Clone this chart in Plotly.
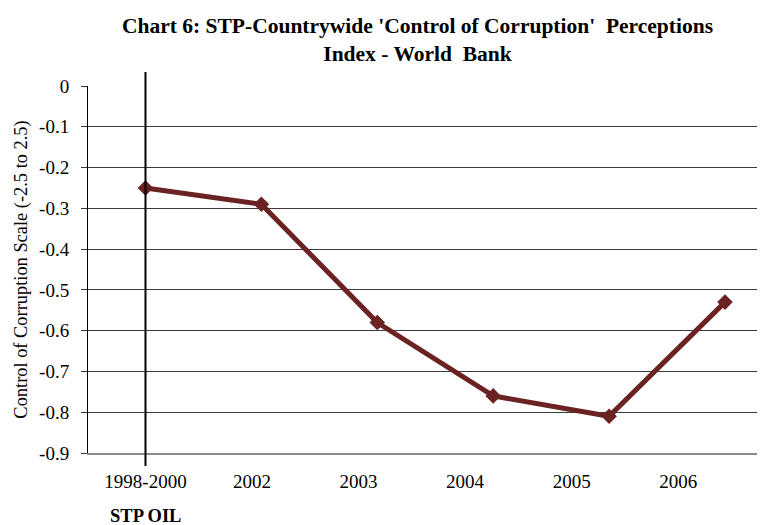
import plotly.graph_objects as go

# World Bank 'Control of Corruption' scores for São Tomé and Príncipe
periods = ["1998-2000", "2002", "2003", "2004", "2005", "2006"]
scores = [-0.25, -0.29, -0.58, -0.76, -0.81, -0.53]
y_ticks = [0, -0.1, -0.2, -0.3, -0.4, -0.5, -0.6, -0.7, -0.8, -0.9]
y_tick_text = ["0", "-0.1", "-0.2", "-0.3", "-0.4", "-0.5", "-0.6", "-0.7", "-0.8", "-0.9"]
oil_marker_period = "1998-2000"
oil_label = "STP OIL"

SERIF = "Liberation Serif, Times New Roman, serif"
LINE_COLOR = "#6B2222"

fig = go.Figure()

# category labels along the bottom axis
fig.add_trace(go.Scatter(
    x=periods, y=scores, mode="none", xaxis="x", yaxis="y",
    hoverinfo="skip", showlegend=False,
))

# the index series itself
fig.add_trace(go.Scatter(
    x=periods, y=scores, mode="lines+markers", xaxis="x2", yaxis="y",
    line=dict(color=LINE_COLOR, width=5),
    marker=dict(symbol="diamond", size=12, color=LINE_COLOR),
    showlegend=False,
))

plot_top, plot_bottom = 86, 453
plot_h = plot_bottom - plot_top

# vertical marker for the start of STP oil activity
fig.add_shape(
    type="line", xref="x2", yref="paper",
    x0=oil_marker_period, x1=oil_marker_period,
    y0=-(466 - plot_bottom) / plot_h, y1=1 + (plot_top - 72) / plot_h,
    line=dict(color="black", width=2),
    layer="above",
)

fig.add_annotation(
    text="<b>" + oil_label + "</b>", xref="x2", yref="paper",
    x=oil_marker_period, y=-(516 - plot_bottom) / plot_h,
    showarrow=False, font=dict(family=SERIF, size=18.5, color="black"),
    xanchor="center", yanchor="middle",
)

fig.update_layout(
    width=776, height=525,
    margin=dict(l=88, r=19, t=plot_top, b=525 - plot_bottom),
    paper_bgcolor="white", plot_bgcolor="white",
    font=dict(family=SERIF, size=19, color="black"),
    title=dict(
        text="<b>Chart 6: STP-Countrywide 'Control of Corruption'  Perceptions<br>Index - World  Bank</b>",
        x=0.538, xanchor="center", y=0.937, yanchor="middle",
        font=dict(family=SERIF, size=21.5, color="black"),
    ),
    xaxis=dict(
        type="category", range=[-0.54, 5.74],
        showgrid=False, zeroline=False,
        showline=True, linecolor="#8c8c8c", linewidth=2,
        ticks="", ticklabelstandoff=10,
        tickfont=dict(family=SERIF, size=19, color="black"),
    ),
    xaxis2=dict(
        type="category", range=[-0.496, 5.276], overlaying="x",
        showgrid=False, zeroline=False, showline=False,
        showticklabels=False, ticks="",
    ),
    yaxis=dict(
        range=[-0.9, 0], tickvals=y_ticks, ticktext=y_tick_text,
        showgrid=True, gridcolor="#3a3a3a", gridwidth=1,
        zeroline=False,
        showline=True, linecolor="black", linewidth=1,
        ticks="outside", ticklen=6, tickcolor="#3a3a3a",
        ticklabelstandoff=8,
        tickfont=dict(family=SERIF, size=19, color="black"),
        title=dict(text="Control of Corruption Scale (-2.5 to 2.5)",
                   font=dict(family=SERIF, size=18.4, color="black"), standoff=6),
    ),
)

fig.write_html("out.html")
